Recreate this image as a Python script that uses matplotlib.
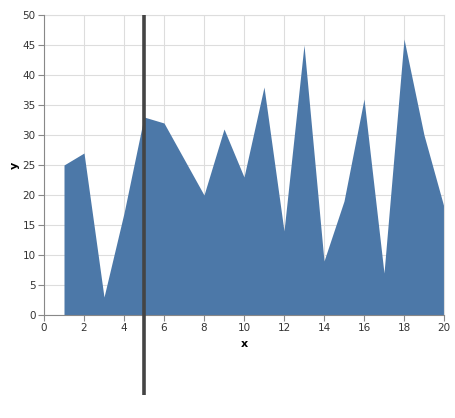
import matplotlib
matplotlib.use("Agg")
import matplotlib.pyplot as plt

# data
x = [1, 2, 3, 4, 5, 6, 7, 8, 9, 10, 11, 12, 13, 14, 15, 16, 17, 18, 19, 20]
y = [25, 27, 3, 17, 33, 32, 26, 20, 31, 23, 38, 14, 45, 9, 19, 36, 7, 46, 30, 18]
rule_x = 5

W, H = 455, 418
fig = plt.figure(figsize=(W / 100, H / 100), dpi=100)
ax = fig.add_axes([44 / W, (H - 315) / H, 400 / W, 300 / H])

ax.fill_between(x, y, 0, color="#4c78a8", linewidth=0, zorder=2)

# rule sticks out below the plot area
ax.axvline(rule_x, ymin=-0.267, ymax=1, color="#444444", linewidth=2.6,
           clip_on=False, zorder=4, solid_capstyle="butt")

ax.set_xlim(0, 20)
ax.set_ylim(0, 50)
ax.set_xticks(range(0, 21, 2))
ax.set_yticks(range(0, 51, 5))
ax.grid(True, color="#dddddd", linewidth=0.8, zorder=0)
ax.set_axisbelow(True)

for s in ["top", "right"]:
    ax.spines[s].set_color("#dddddd")
    ax.spines[s].set_linewidth(0.8)
for s in ["left", "bottom"]:
    ax.spines[s].set_color("#888888")
    ax.spines[s].set_linewidth(0.8)
    ax.spines[s].set_zorder(3)

ax.tick_params(axis="both", length=4, width=0.8, color="#888888",
               labelsize=7.5, labelcolor="#333333", pad=2)

ax.set_xlabel("x", fontsize=8, fontweight="bold", labelpad=4)
ax.set_ylabel("y", fontsize=8, fontweight="bold")
ax.yaxis.set_label_coords(-0.06, 0.5)

fig.savefig("out.png", dpi=100)
